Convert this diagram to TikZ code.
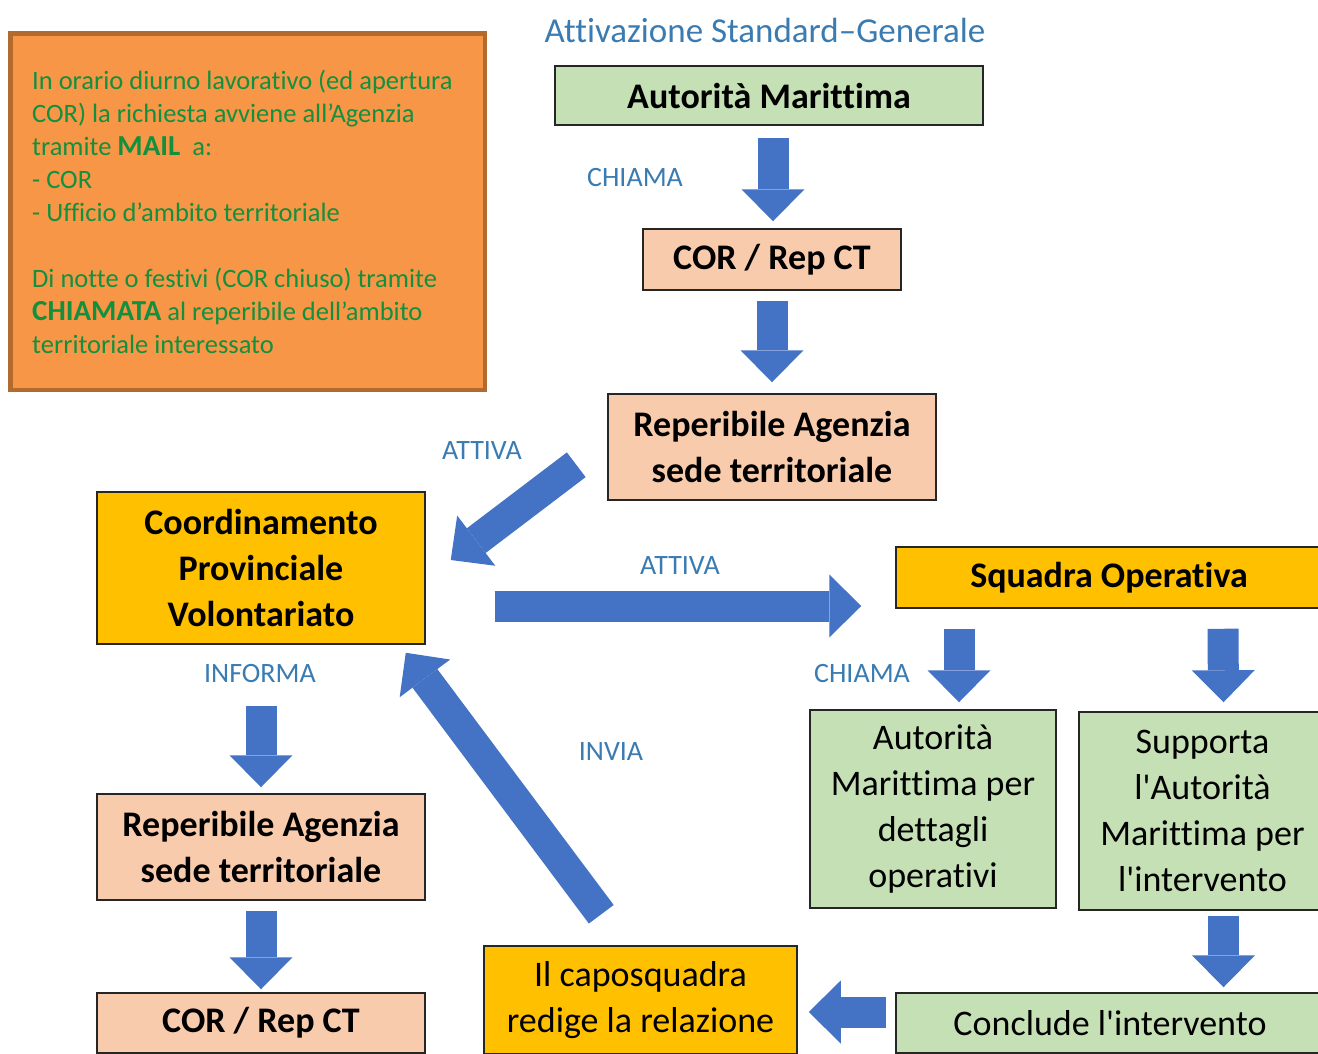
\documentclass[tikz,border=0pt]{standalone}
\usepackage{fontspec}
\setmainfont{Carlito}[Ligatures={TeXOff,CommonOff}]
\usetikzlibrary{arrows.meta,calc}
\definecolor{boxgreen}{HTML}{C5E0B4}
\definecolor{boxsalmon}{HTML}{F8CBAD}
\definecolor{boxgold}{HTML}{FFC000}
\definecolor{arrowblue}{HTML}{4472C4}
\definecolor{lblblue}{HTML}{3A7CB2}
\definecolor{notefill}{HTML}{F79646}
\definecolor{noteedge}{HTML}{B36A2E}
\definecolor{notetext}{HTML}{12903E}
\begin{document}
\begin{tikzpicture}[x=1pt,y=-1pt,
  box/.style={draw=black!85, line width=1.5pt, inner sep=0pt, align=center, text=black},
  bbold/.style={box, font=\bfseries\fontsize{36}{46}\selectfont},
  bplain/.style={box, font=\fontsize{36}{46}\selectfont},
  lbl/.style={text=lblblue, font=\fontsize{28}{34}\selectfont, inner sep=0pt},
  blk/.style={draw=arrowblue, line width=31pt, -{Triangle[width=63pt,length=32pt,line width=0pt]}},
]
\path[use as bounding box, fill=white] (0,0) rectangle (1318,1053);
\clip (0,0) rectangle (1318,1053);

% note box
\node[draw=noteedge, line width=4.5pt, fill=notefill, minimum width=474.5pt, minimum height=356.5pt, inner sep=0pt] (note) at (247.5,211.5) {};
\node[anchor=west, align=left, inner sep=0pt, text=notetext, font=\fontsize{26.5}{33}\selectfont] (notetxt) at (32,211.5)
{In orario diurno lavorativo (ed apertura\\
COR) la richiesta avviene all’Agenzia\\
tramite {\bfseries\fontsize{29}{33}\selectfont MAIL}\ \ a:\\
- COR\\
- Ufficio d’ambito territoriale\\[33pt]
Di notte o festivi (COR chiuso) tramite\\
{\bfseries\fontsize{29}{33}\selectfont CHIAMATA} al reperibile dell’ambito\\
territoriale interessato};

% title and labels
\node[lbl, font=\fontsize{35}{40}\selectfont] (title) at (765,30) {Attivazione Standard–Generale};
\node[lbl] (l1) at (635,178) {CHIAMA};
\node[lbl] (l2) at (482,451) {ATTIVA};
\node[lbl] (l3) at (680,566) {ATTIVA};
\node[lbl] (l4) at (260,674) {INFORMA};
\node[lbl] (l5) at (611,752) {INVIA};
\node[lbl] (l6) at (862,674) {CHIAMA};

% boxes
\node[bbold, fill=boxgreen, minimum width=428pt, minimum height=59pt] (am) at (769,95.5) {Autorità Marittima};
\node[bbold, fill=boxsalmon, minimum width=258pt, minimum height=61pt] (cor) at (772,259.5) {COR / Rep CT};
\node[bbold, fill=boxsalmon, minimum width=328pt, minimum height=106pt] (rep) at (772,447) {Reperibile Agenzia\\sede territoriale};
\node[bbold, fill=boxgold, minimum width=328pt, minimum height=152pt] (coord) at (261,568) {Coordinamento\\Provinciale\\Volontariato};
\node[bbold, fill=boxgold, minimum width=426pt, minimum height=61pt] (squad) at (1109,577.5) {Squadra Operativa};
\node[bplain, fill=boxgreen, minimum width=246pt, minimum height=198pt] (amd) at (933,809) {\raisebox{-3pt}{\parbox{240pt}{\centering Autorità\\Marittima per\\dettagli\\operativi}}};
\node[bplain, fill=boxgreen, minimum width=247pt, minimum height=198pt] (sup) at (1202.5,811) {Supporta\\l'Autorità\\Marittima per\\l'intervento};
\node[bplain, fill=boxgreen, minimum width=428pt, minimum height=60pt] (concl) at (1110,1023) {Conclude l'intervento};
\node[bplain, fill=boxgold, minimum width=313pt, minimum height=108pt] (cap) at (640.5,1000) {Il caposquadra\\redige la relazione};
\node[bbold, fill=boxsalmon, minimum width=328pt, minimum height=106pt] (rep2) at (261,847) {Reperibile Agenzia\\sede territoriale};
\node[bbold, fill=boxsalmon, minimum width=328pt, minimum height=60pt] (cor2) at (261,1023) {COR / Rep CT};

% block arrows
\draw[blk] ($(am.south)+(4,12)$) -- ($(cor.north)+(1,-7)$);
\draw[blk] ($(cor.south)+(0,10)$) -- ($(rep.north)+(0,-11)$);
\draw[blk] ($(rep.south west)+(-31,-36)$) -- ($(coord.east)+(25,-8)$);
\draw[blk] ($(coord.east)+(69,38)$) -- ($(squad.west)+(-34,28.5)$);
\draw[blk] ($(coord.south)+(0,61)$) -- ($(rep2.north)+(0,-6)$);
\draw[blk] ($(rep2.south)+(0,10)$) -- ($(cor2.north)+(0,-3)$);
\draw[blk] ($(squad.south)+(-150,20)$) -- ($(amd.north)+(26,-7)$);
\draw[blk] ($(squad.south)+(114,20)$) -- ($(sup.north)+(21,-9)$);
\draw[blk] ($(sup.south)+(21,5)$) -- ($(concl.north)+(113.5,-5)$);
\draw[blk] ($(concl.west)+(-9,-11)$) -- ($(cap.east)+(11,12)$);
\draw[blk] ($(cap.north west)+(118,-31)$) -- ($(coord.south east)+(-20,8)$);
\end{tikzpicture}
\end{document}
